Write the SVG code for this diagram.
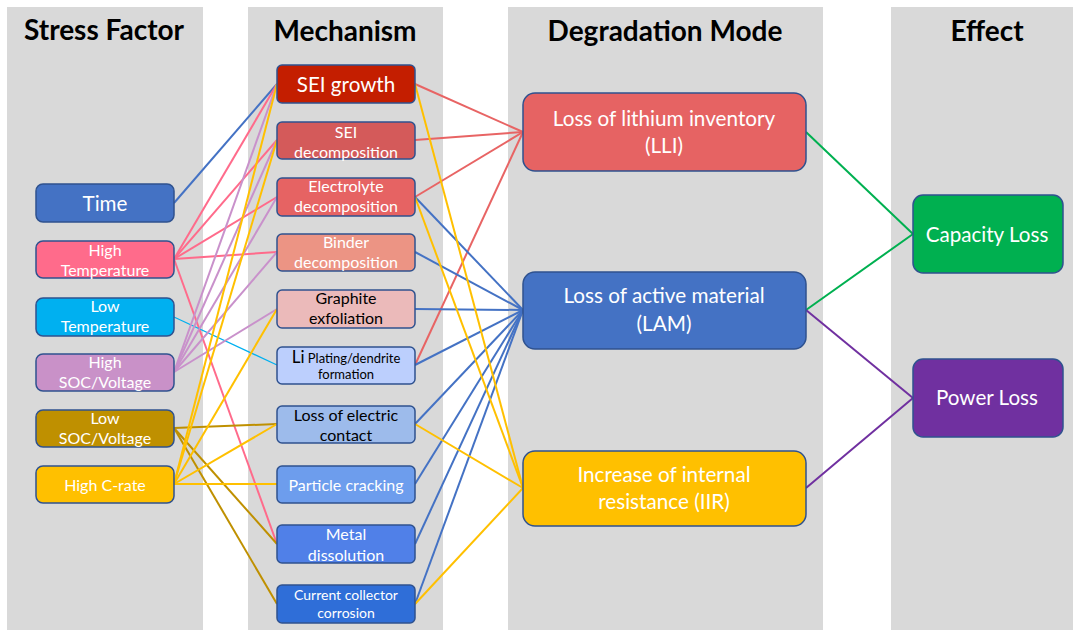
<svg xmlns="http://www.w3.org/2000/svg" width="1073" height="630" viewBox="0 0 1073 630">
  <style>
    .col { fill: #d9d9d9; }
    .hdr { font-family: Lato, "Liberation Sans", sans-serif; font-weight: bold; font-size: 28px; fill: #000; text-anchor: middle; }
    .box { stroke: #2f528f; stroke-width: 1.5; }
    .t { font-family: Lato, "Liberation Sans", sans-serif; text-anchor: middle; fill: #fff; }
    .dk { fill: #000; }
    .s16 { font-size: 16px; }
    .s14 { font-size: 14px; }
    .s20 { font-size: 20.6px; }
    .s21 { font-size: 20.7px; }
    .ln { fill: none; stroke-width: 2; }
    .blue { stroke: #4472c4; }
    .pink { stroke: #ff6b8b; }
    .cyan { stroke: #00b0f0; stroke-width: 1.2; }
    .purp { stroke: #c991cb; }
    .gold { stroke: #bf9000; }
    .yel { stroke: #ffc000; }
    .red { stroke: #e86464; }
    .grn { stroke: #00b050; }
    .vio { stroke: #7030a0; }
  </style>

  <!-- column backgrounds -->
  <rect class="col" x="7" y="7" width="196" height="623"/>
  <rect class="col" x="248" y="7" width="195" height="623"/>
  <rect class="col" x="508" y="7" width="315" height="623"/>
  <rect class="col" x="891" y="7" width="182" height="623"/>

  <!-- column headings -->
  <text class="hdr" x="104" y="40">Stress Factor</text>
  <text class="hdr" x="345" y="41">Mechanism</text>
  <text class="hdr" x="665" y="41">Degradation Mode</text>
  <text class="hdr" x="987" y="41">Effect</text>

  <!-- connectors -->
  <g id="connectors" class="ln">
    <!-- stress factor -> mechanism -->
    <line class="blue" x1="174" y1="203" x2="277" y2="84"/>
    <line class="pink" x1="174" y1="259" x2="277" y2="84"/>
    <line class="pink" x1="174" y1="259" x2="277" y2="140"/>
    <line class="pink" x1="174" y1="259" x2="277" y2="197"/>
    <line class="pink" x1="174" y1="259" x2="277" y2="252"/>
    <line class="pink" x1="174" y1="259" x2="277" y2="544"/>
    <line class="cyan" x1="174" y1="317" x2="277" y2="365"/>
    <line class="purp" x1="174" y1="372" x2="277" y2="84"/>
    <line class="purp" x1="174" y1="372" x2="277" y2="140"/>
    <line class="purp" x1="174" y1="372" x2="277" y2="197"/>
    <line class="purp" x1="174" y1="372" x2="277" y2="252"/>
    <line class="purp" x1="174" y1="372" x2="277" y2="309"/>
    <line class="gold" x1="174" y1="428" x2="277" y2="424"/>
    <line class="gold" x1="174" y1="428" x2="277" y2="544"/>
    <line class="gold" x1="174" y1="428" x2="277" y2="604"/>
    <line class="yel" x1="174" y1="484" x2="277" y2="84"/>
    <line class="yel" x1="174" y1="484" x2="277" y2="140"/>
    <line class="yel" x1="174" y1="484" x2="277" y2="309"/>
    <line class="yel" x1="174" y1="484" x2="277" y2="424"/>
    <line class="yel" x1="174" y1="484" x2="277" y2="484"/>
    <!-- mechanism -> degradation mode -->
    <line class="red" x1="415" y1="84" x2="523" y2="132"/>
    <line class="red" x1="415" y1="140" x2="523" y2="132"/>
    <line class="red" x1="415" y1="197" x2="523" y2="132"/>
    <line class="red" x1="415" y1="365" x2="523" y2="132"/>
    <line class="blue" x1="415" y1="197" x2="523" y2="310"/>
    <line class="blue" x1="415" y1="252" x2="523" y2="310"/>
    <line class="blue" x1="415" y1="309" x2="523" y2="310"/>
    <line class="blue" x1="415" y1="365" x2="523" y2="310"/>
    <line class="blue" x1="415" y1="424" x2="523" y2="310"/>
    <line class="blue" x1="415" y1="484" x2="523" y2="310"/>
    <line class="blue" x1="415" y1="544" x2="523" y2="310"/>
    <line class="blue" x1="415" y1="604" x2="523" y2="310"/>
    <line class="yel" x1="415" y1="84" x2="523" y2="488"/>
    <line class="yel" x1="415" y1="197" x2="523" y2="488"/>
    <line class="yel" x1="415" y1="424" x2="523" y2="488"/>
    <line class="yel" x1="415" y1="604" x2="523" y2="488"/>
    <!-- degradation mode -> effect -->
    <line class="grn" x1="806" y1="132" x2="913" y2="234"/>
    <line class="grn" x1="806" y1="310" x2="913" y2="234"/>
    <line class="vio" x1="806" y1="310" x2="913" y2="398"/>
    <line class="vio" x1="806" y1="488" x2="913" y2="398"/>
  </g>

  <!-- stress factors -->
  <g id="time">
    <rect class="box" x="36" y="184" width="138" height="38" rx="7" fill="#4472c4"/>
    <text class="t s20" x="105" y="211">Time</text>
  </g>
  <g id="high-temperature">
    <rect class="box" x="36" y="241" width="138" height="37" rx="7" fill="#ff6b8b"/>
    <text class="t s16" x="105" y="256">High</text>
    <text class="t s16" x="105" y="276">Temperature</text>
  </g>
  <g id="low-temperature">
    <rect class="box" x="36" y="298" width="138" height="38" rx="7" fill="#00b0f0"/>
    <text class="t s16" x="105" y="312">Low</text>
    <text class="t s16" x="105" y="332">Temperature</text>
  </g>
  <g id="high-soc">
    <rect class="box" x="36" y="354" width="138" height="37" rx="7" fill="#c991c8"/>
    <text class="t s16" x="105" y="368">High</text>
    <text class="t s16" x="105" y="388">SOC/Voltage</text>
  </g>
  <g id="low-soc">
    <rect class="box" x="36" y="410" width="138" height="37" rx="7" fill="#bf9000"/>
    <text class="t s16" x="105" y="424">Low</text>
    <text class="t s16" x="105" y="444">SOC/Voltage</text>
  </g>
  <g id="high-c-rate">
    <rect class="box" x="36" y="466" width="138" height="37" rx="7" fill="#ffc000"/>
    <text class="t s16" x="105" y="491">High C-rate</text>
  </g>

  <!-- mechanisms -->
  <g id="sei-growth">
    <rect class="box" x="277" y="65" width="138" height="38" rx="5" fill="#c41e00"/>
    <text class="t s20" x="346" y="92">SEI growth</text>
  </g>
  <g id="sei-decomposition">
    <rect class="box" x="277" y="122" width="138" height="37" rx="5" fill="#d45a5a"/>
    <text class="t s16" x="346" y="138">SEI</text>
    <text class="t s16" x="346" y="158">decomposition</text>
  </g>
  <g id="electrolyte-decomposition">
    <rect class="box" x="277" y="178" width="138" height="38" rx="5" fill="#e66363"/>
    <text class="t s16" x="346" y="192">Electrolyte</text>
    <text class="t s16" x="346" y="212">decomposition</text>
  </g>
  <g id="binder-decomposition">
    <rect class="box" x="277" y="234" width="138" height="37" rx="5" fill="#ec9484"/>
    <text class="t s16" x="346" y="248">Binder</text>
    <text class="t s16" x="346" y="268">decomposition</text>
  </g>
  <g id="graphite-exfoliation">
    <rect class="box" x="277" y="290" width="138" height="38" rx="5" fill="#ebbaba"/>
    <text class="t s16 dk" x="346" y="304">Graphite</text>
    <text class="t s16 dk" x="346" y="324">exfoliation</text>
  </g>
  <g id="li-plating">
    <rect class="box" x="277" y="347" width="138" height="37" rx="5" fill="#bccffd"/>
    <text class="t dk" x="346" y="363"><tspan font-size="17px">Li</tspan><tspan font-size="13px"> Plating/dendrite</tspan></text>
    <text class="t dk" x="346" y="379" font-size="13px">formation</text>
  </g>
  <g id="loss-of-electric-contact">
    <rect class="box" x="277" y="406" width="138" height="37" rx="5" fill="#9dbbeb"/>
    <text class="t s16 dk" x="346" y="421">Loss of electric</text>
    <text class="t s16 dk" x="346" y="441">contact</text>
  </g>
  <g id="particle-cracking">
    <rect class="box" x="277" y="466" width="138" height="37" rx="5" fill="#6d9ded"/>
    <text class="t s16" x="346" y="491">Particle cracking</text>
  </g>
  <g id="metal-dissolution">
    <rect class="box" x="277" y="525" width="138" height="38" rx="5" fill="#5080e8"/>
    <text class="t s16" x="346" y="540">Metal</text>
    <text class="t s16" x="346" y="561">dissolution</text>
  </g>
  <g id="current-collector-corrosion">
    <rect class="box" x="277" y="585" width="138" height="38" rx="5" fill="#2f6ed8"/>
    <text class="t s14" x="346" y="600">Current collector</text>
    <text class="t s14" x="346" y="618">corrosion</text>
  </g>

  <!-- degradation modes -->
  <g id="lli">
    <rect class="box" x="523" y="93" width="283" height="78" rx="12" fill="#e66363"/>
    <text class="t s21" x="664" y="126">Loss of lithium inventory</text>
    <text class="t s21" x="664" y="153">(LLI)</text>
  </g>
  <g id="lam">
    <rect class="box" x="523" y="272" width="283" height="77" rx="12" fill="#4472c4"/>
    <text class="t s21" x="664" y="303">Loss of active material</text>
    <text class="t s21" x="664" y="331">(LAM)</text>
  </g>
  <g id="iir">
    <rect class="box" x="523" y="451" width="283" height="75" rx="12" fill="#ffc000"/>
    <text class="t s21" x="664" y="482">Increase of internal</text>
    <text class="t s21" x="664" y="509">resistance (IIR)</text>
  </g>

  <!-- effects -->
  <g id="capacity-loss">
    <rect class="box" x="913" y="195" width="150" height="78" rx="10" fill="#00b050"/>
    <text class="t s20" x="987" y="242">Capacity Loss</text>
  </g>
  <g id="power-loss">
    <rect class="box" x="913" y="359" width="150" height="78" rx="10" fill="#7030a0"/>
    <text class="t s20" x="987" y="405">Power Loss</text>
  </g>
</svg>
